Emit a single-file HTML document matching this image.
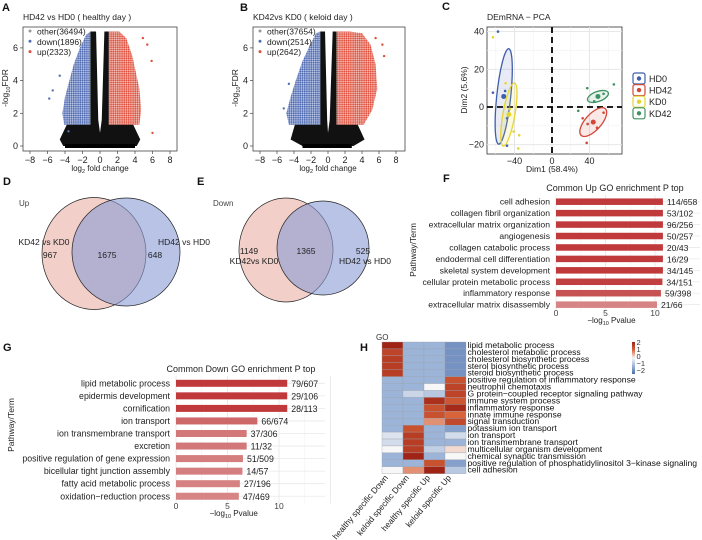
<!DOCTYPE html>
<html><head><meta charset="utf-8"><style>
html,body{margin:0;padding:0;background:#fff;}
svg{display:block;font-family:"Liberation Sans",Arial,sans-serif;}
</style></head><body>
<svg id="fig" width="702" height="540" viewBox="0 0 702 540" xmlns="http://www.w3.org/2000/svg">
<defs>
<pattern id="pblue" width="2.2" height="2.2" patternUnits="userSpaceOnUse"><rect width="2.2" height="2.2" fill="#c8d2ec"/><circle cx="1.1" cy="1.1" r="0.95" fill="#4e69b0"/></pattern>
<pattern id="pred" width="2.2" height="2.2" patternUnits="userSpaceOnUse"><rect width="2.2" height="2.2" fill="#f5cdc6"/><circle cx="1.1" cy="1.1" r="0.95" fill="#e0503e"/></pattern>
</defs>
</svg>
<script>
// ---------- DATA ----------
const volcABlackX=[-1.1,-0.45,-0.2,0,0.2,0.5,1,1,3.8,4.6,4.2,-4.2,-4.6,-3.8,-1.1];
const volcABlackY=[7,7,1.6,0.8,1.6,7,7,1.3,1.3,0.4,0,0,0.4,1.3,1.3];
const volcABlueX=[-1.1,-1.6,-2.3,-3,-3.5,-4,-4.3,-4.1,-1.1];
const volcABlueY=[7,6.8,6,5,4,3,2,1.3,1.3];
const volcARedX=[1,2.2,3,3.7,4.1,4.5,4.7,4.5,1];
const volcARedY=[7,7,6.6,5.5,4.5,3.5,2.2,1.3,1.3];
const volcAOutX=[-5.4,-4.6,-5.8,5.4,5.9,4.9,6,-3.6];
const volcAOutY=[3.4,4.3,2.9,6.2,5.2,6.6,0.8,0.9];
const volcBBlackX=[-0.9,-0.35,-0.1,0,0.2,0.55,1,1,3.5,4.3,3,-3,-4.4,-3.9,-0.9];
const volcBBlackY=[7,7,1.6,0.8,1.6,7,7,1.3,1.3,0.4,0,0,0.4,1.3,1.3];
const volcBBlueX=[-0.9,-1.4,-2,-3,-3.8,-4.4,-4.9,-4.6,-0.9];
const volcBBlueY=[7,6.9,6.3,5.2,4,3,2,1.3,1.3];
const volcBRedX=[1,2.5,4,5,5.6,5.8,5.2,4.2,1];
const volcBRedY=[7,7,6.9,6.2,5,3.5,2.2,1.3,1.3];
const volcBOutX=[-5.2,-4.6,6.4,6.6,5.6];
const volcBOutY=[2.3,3.8,6.2,5.5,6.6];
const pcaGroups=["HD0","HD42","KD0","KD42"];
const pcaHD0x=[-57.6,-63,-48,-50,-48];   const pcaHD0y=[40,7.6,-20.5,8.5,-6];
const pcaHD42x=[32.7,38,55,37,48];       const pcaHD42y=[-6,-9,-3,-19,-11];
const pcaKD0x=[-63,-49.5,-41,-35,-36,-45];const pcaKD0y=[37,12.6,-13,-15,-22,-1];
const pcaKD42x=[37.6,66,28,55,45];       const pcaKD42y=[10,12,-2,7,3];
const pcaCenterX=[-51.5,44,-46,49];      const pcaCenterY=[5.6,-8,-4,5.6];
const pcaEllA=[48,18,32,11]; const pcaEllB=[7,8,6,5]; const pcaEllAng=[-84,-48,-80,-20];
const vennUp=[967,1675,648]; const vennDown=[1149,1365,525];
const upTerms=["cell adhesion","collagen fibril organization","extracellular matrix organization","angiogenesis","collagen catabolic process","endodermal cell differentiation","skeletal system development","cellular protein metabolic process","inflammatory response","extracellular matrix disassembly"];
const upVals=[10.8,10.8,10.8,10.8,10.8,10.8,10.8,10.75,10.6,10.2];
const upCounts=["114/658","53/102","96/256","50/257","20/43","16/29","34/145","34/151","59/398","21/66"];
const upTicks=[0,5,10];
const dnTerms=["lipid metabolic process","epidermis development","cornification","ion transport","ion transmembrane transport","excretion","positive regulation of gene expression","bicellular tight junction assembly","fatty acid metabolic process","oxidation\u2212reduction process"];
const dnVals=[10.8,10.8,10.8,7.9,6.86,6.86,6.5,6.45,6.2,6.1];
const dnCounts=["79/607","29/106","28/113","66/674","37/306","11/32","51/509","14/57","27/196","47/469"];
const dnTicks=[0,5,10];
const hmCols=["healthy specific Down","keloid specific Down","healthy specific Up","keloid specific Up"];
const hmRows=["lipid metabolic process","cholesterol metabolic process","cholesterol biosynthetic process","sterol biosynthetic process","steroid biosynthetic process","positive regulation of inflammatory response","neutrophil chemotaxis","G protein\u2212coupled receptor signaling pathway","immune system process","inflammatory response","innate immune response","signal transduction","potassium ion transport","ion transport","ion transmembrane transport","multicellular organism development","chemical synaptic transmission","positive regulation of phosphatidylinositol 3\u2212kinase signaling","cell adhesion"];
const hmVals=[
[2,-1,-1,-1.5],[1.5,-1,-1,-1.5],[1.6,-1,-1,-1.5],[1.6,-1,-1,-1.5],[1.6,-1,-1,-1.5],
[-1,-1,-1,1.3],[-1,-1,0,1.5],[-1,-0.5,-0.7,1.5],[-1,-1,1.8,1.2],[-1,-1,1.3,1.9],
[-1,-1,1.3,1.0],[-1,-1,0.7,1.4],[-1,1.3,-1,-1.3],[-0.3,1.6,-1,-0.4],[-0.4,1.6,-1,-1],
[0,1.6,-0.6,0.2],[-1,2,-1,0],[-1,-1,1.3,-1.3],[0,0.7,2,-0.7]];
const hmLegend=[2,1,0,-1,-2];

// ---------- HELPERS ----------
const NS="http://www.w3.org/2000/svg";
const svg=document.getElementById('fig');
function mk(tag,attrs,parent,text){const e=document.createElementNS(NS,tag);for(const k in attrs)e.setAttribute(k,attrs[k]);if(text!==undefined)e.textContent=text;(parent||svg).appendChild(e);return e;}
function grp(name){const g=mk('g',{});return g;}
function txt(p,x,y,s,size,name,extra){const t=mk('text',Object.assign({x:x,y:y,'font-size':size,fill:'#222'},extra||{}),p,s);return t;}

[["A",2,11],["B",240,11],["C",442,10],["D",3,185],["E",197,185],["F",443,182],["G",3,351],["H",360,351]].forEach(l=>{
  txt(svg,l[1],l[2],l[0],11,'panel-label-'+l[0].toLowerCase(),{'font-weight':'bold',fill:'#111'});
});

// ---------- VOLCANO ----------
function volcano(name,x0,sx,bx0,bx1,title,legend,bk,bl,rd,out,barL,barR,ylabX){
  const g=grp(name);
  const X=v=>x0+v*sx, Y=v=>146-v*16.35;
  txt(g,bx0,20,title,8.5,name+'-title');
  mk('rect',{x:bx0,y:27,width:bx1-bx0,height:124,fill:'#fff',stroke:'#444','stroke-width':0.8},g);
  const poly=(xs,ys,col,n)=>{const p=mk('polygon',{points:xs.map((v,i)=>X(v)+','+Y(ys[i])).join(' '),fill:col},g);};
  poly(bl[0],bl[1],'url(#pblue)',name+'-down-points');
  poly(rd[0],rd[1],'url(#pred)',name+'-up-points');
  poly(bk[0],bk[1],'#111',name+'-other-points');
  const bar=mk('rect',{x:X(barL),y:Y(0)-2,width:X(barR)-X(barL),height:4,fill:'#000'},g);
  
  out[0].forEach((v,i)=>{const c=mk('circle',{cx:X(v),cy:Y(out[1][i]),r:1.2,fill:v<0?'#5670b4':'#e0503e'},g);});
  [0,2,4,6].forEach(v=>{mk('line',{x1:bx0-3,x2:bx0,y1:Y(v),y2:Y(v),stroke:'#444','stroke-width':0.7},g);txt(g,bx0-5,Y(v)+3,String(v),9,'y-tick-label',{'text-anchor':'end'});});
  [-8,-6,-4,-2,0,2,4,6,8].forEach(v=>{mk('line',{x1:X(v),x2:X(v),y1:151,y2:154,stroke:'#444','stroke-width':0.7},g);txt(g,X(v),163,v<0?'\u2212'+(-v):String(v),9,'x-tick-label',{'text-anchor':'middle'});});
  const xl=txt(g,X(0),171,'',8,name+'-x-axis-title',{'text-anchor':'middle'});
  mk('tspan',{},xl,'log');mk('tspan',{'font-size':5.5,dy:2},xl,'2');mk('tspan',{dy:-2},xl,' fold change');
  const yl=txt(g,0,0,'',8.5,name+'-y-axis-title',{'text-anchor':'middle',transform:`translate(${ylabX},88) rotate(-90)`});
  mk('tspan',{},yl,'-log');mk('tspan',{'font-size':5.5,dy:2},yl,'10');mk('tspan',{dy:-2},yl,'FDR');
  const lc=['#999','#5670b4','#e0503e'];
  legend.forEach((s,i)=>{mk('circle',{cx:bx0+7,cy:31+i*10.3,r:1.5,fill:lc[i]},g);txt(g,bx0+14,34.5+i*10.3,s,8.5,'legend-entry');});
}
volcano('volcano-healthy',100,8.75,23,177,'HD42 vs HD0 ( healthy day )',['other(36494)','down(1896)','up(2323)'],
  [volcABlackX,volcABlackY],[volcABlueX,volcABlueY],[volcARedX,volcARedY],[volcAOutX,volcAOutY],-4,4,8);
volcano('volcano-keloid',328,8.5,253,405,'KD42vs KD0  ( keloid day )',['other(37654)','down(2514)','up(2642)'],
  [volcBBlackX,volcBBlackY],[volcBBlueX,volcBBlueY],[volcBRedX,volcBRedY],[volcBOutX,volcBOutY],-3,2.8,238);

// ---------- PCA ----------
(function(){
  const g=grp('pca-plot');
  const X=v=>552+v*0.9375, Y=v=>107-v*1.885;
  txt(g,487,20,'DEmRNA \u2212 PCA',8.5,'pca-title');
  mk('rect',{x:487,y:27,width:135,height:127,fill:'#fff',stroke:'#333','stroke-width':0.8},g);
  [-60,-20,20,60].forEach(v=>mk('line',{x1:X(v),x2:X(v),y1:27,y2:154,stroke:'#f2f2f2','stroke-width':0.6},g));
  [-10,10,30].forEach(v=>mk('line',{x1:487,x2:622,y1:Y(v),y2:Y(v),stroke:'#f2f2f2','stroke-width':0.6},g));
  [-40,0,40].forEach(v=>mk('line',{x1:X(v),x2:X(v),y1:27,y2:154,stroke:'#e4e4e4','stroke-width':0.9},g));
  [-20,0,20,40].forEach(v=>mk('line',{x1:487,x2:622,y1:Y(v),y2:Y(v),stroke:'#e4e4e4','stroke-width':0.9},g));
  mk('line',{x1:X(0),x2:X(0),y1:27,y2:154,stroke:'#000','stroke-width':1.8,'stroke-dasharray':'6,4'},g);
  mk('line',{x1:487,x2:622,y1:Y(0),y2:Y(0),stroke:'#000','stroke-width':1.8,'stroke-dasharray':'6,4'},g);
  const cols=['#3f5eab','#d2473a','#e3d531','#3f9263'];
  const fills=['rgba(63,94,171,0.12)','rgba(210,71,58,0.12)','rgba(227,213,49,0.15)','rgba(63,146,99,0.12)'];
  const xs=[pcaHD0x,pcaHD42x,pcaKD0x,pcaKD42x], ys=[pcaHD0y,pcaHD42y,pcaKD0y,pcaKD42y];
  pcaGroups.forEach((nm,k)=>{
    const cx=X(pcaCenterX[k]),cy=Y(pcaCenterY[k]);
    const e=mk('ellipse',{cx:cx,cy:cy,rx:pcaEllA[k],ry:pcaEllB[k],fill:fills[k],stroke:cols[k],'stroke-width':1.3,transform:`rotate(${pcaEllAng[k]} ${cx} ${cy})`},g);
    
    xs[k].forEach((v,i)=>{const c=mk('circle',{cx:X(v),cy:Y(ys[k][i]),r:1.3,fill:cols[k]},g);});
    const c=mk('circle',{cx:cx,cy:cy,r:2.5,fill:cols[k]},g);
    const ly=73+k*11.6;
    const r=mk('rect',{x:633,y:ly,width:12,height:11,rx:2,fill:'#fff',stroke:cols[k],'stroke-width':1.2},g);
    
    mk('circle',{cx:639,cy:ly+5.5,r:2.2,fill:cols[k]},g);
    txt(g,649,ly+9,nm,9,'legend-entry');
  });
  [-40,0,40].forEach(v=>txt(g,X(v),164,v<0?'\u2212'+(-v):String(v),9,'x-tick-label',{'text-anchor':'middle'}));
  [-20,0,20,40].forEach(v=>txt(g,484,Y(v)+3,v<0?'\u2212'+(-v):String(v),9,'y-tick-label',{'text-anchor':'end'}));
  txt(g,552,172,'Dim1 (58.4%)',8.5,'x-axis-title',{'text-anchor':'middle'});
  txt(g,0,0,'Dim2 (5.6%)',8.5,'y-axis-title',{'text-anchor':'middle',transform:'translate(467,90) rotate(-90)'});
})();

// ---------- VENN ----------
function venn(name,vals,lbl,pink,blue,labels){
  const g=grp(name);
  const p=mk('ellipse',{cx:pink[0],cy:pink[1],rx:pink[2],ry:pink[3],fill:'#f2d0c9',stroke:'#222','stroke-width':0.7},g);
  
  const b=mk('ellipse',{cx:blue[0],cy:blue[1],rx:blue[2],ry:blue[3],fill:'rgb(137,155,213)','fill-opacity':0.6,stroke:'#222','stroke-width':0.7},g);
  
  txt(g,labels[0][0],labels[0][1],lbl,8,name+'-title',{fill:'#444'});
  vals.forEach((v,i)=>txt(g,labels[i+1][0],labels[i+1][1],String(v),8.5,'venn-count',{'text-anchor':'middle'}));
  txt(g,labels[4][0],labels[4][1],labels[4][2],8.5,'set-label-kd',{'text-anchor':'middle'});
  txt(g,labels[5][0],labels[5][1],labels[5][2],8.5,'set-label-hd',{'text-anchor':'middle'});
}
venn('venn-up',vennUp,'Up',[94,253.5,52,56],[126,252,54,54],[[19,206],[50,258],[107,258],[155,258],[44,245,'KD42 vs KD0'],[184,245,'HD42 vs HD0']]);
venn('venn-down',vennDown,'Down',[286,250,47,52],[323,248,46,47],[[213,206],[249,254],[306,254],[363,254],[254,264,'KD42vs KD0'],[365,264,'HD42 vs HD0']]);

// ---------- BAR CHARTS ----------
function mixCol(t){const a=[214,132,132],b=[192,57,59];return 'rgb('+a.map((v,i)=>Math.round(v+(b[i]-v)*t)).join(',')+')';}
function barChart(name,terms,vals,counts,ticks,o){
  const g=grp(name);
  const X=v=>o.x0+v*o.sx, Y=i=>o.y0+i*o.dy;
  const mn=Math.min(...vals),mx=Math.max(...vals);
  for(let v=0;v<=o.gmax;v+=2.5){mk('line',{x1:X(v),x2:X(v),y1:Y(0)-o.dy*0.6,y2:Y(terms.length-1)+o.dy*0.6,stroke:v%5===0?'#e6e6e6':'#f3f3f3','stroke-width':0.8},g);}
  terms.forEach((t,i)=>{
    mk('line',{x1:X(0),x2:o.gx1,y1:Y(i),y2:Y(i),stroke:'#e9e9e9','stroke-width':0.8},g);
    const c=(vals[i]-mn)/((mx-mn)||1);
    const r=mk('rect',{x:X(0),y:Y(i)-o.bh/2,width:X(vals[i])-X(0),height:o.bh,fill:mixCol(c)},g);
    
    txt(g,X(0)-6,Y(i)+3,t,o.fs,'category-label',{'text-anchor':'end'});
    txt(g,X(vals[i])+4,Y(i)+3.5,counts[i],o.fs,'count-label');
  });
  ticks.forEach(v=>txt(g,X(v),o.tickY,String(v),8.5,'x-tick-label',{'text-anchor':'middle',fill:'#444'}));
  const xl=txt(g,X(5.6),o.tickY+7,'',8,name+'-x-axis-title',{'text-anchor':'middle'});
  mk('tspan',{},xl,'\u2212log');mk('tspan',{'font-size':5.5,dy:2},xl,'10');mk('tspan',{dy:-2},xl,' Pvalue');
  txt(g,o.tx,o.ty,o.title,9,name+'-title',{'text-anchor':'middle'});
  txt(g,0,0,'Pathway/Term',8.5,name+'-y-axis-title',{'text-anchor':'middle',transform:`translate(${o.ylx},${o.yly}) rotate(-90)`});
}
barChart('go-up-chart',upTerms,upVals,upCounts,upTicks,{x0:556,sx:9.9,y0:201.7,dy:11.44,bh:6.5,fs:8.6,gmax:12.5,gx1:700,tickY:316,tx:615,ty:191,title:'Common Up GO enrichment P top',ylx:416,yly:250});
barChart('go-down-chart',dnTerms,dnVals,dnCounts,dnTicks,{x0:176,sx:10.3,y0:383.3,dy:12.55,bh:7,fs:8.8,gmax:15,gx1:325,tickY:509,tx:241,ty:372,title:'Common Down GO enrichment P top',ylx:14,yly:425});

// ---------- HEATMAP ----------
function hcol(v){
  const st=[[-2,[77,112,173]],[-1,[156,180,216]],[0,[248,247,247]],[1,[217,100,58]],[2,[160,36,22]]];
  v=Math.max(-2,Math.min(2,v));
  for(let i=0;i<st.length-1;i++){if(v<=st[i+1][0]){const t=(v-st[i][0])/(st[i+1][0]-st[i][0]);return 'rgb('+st[i][1].map((a,k)=>Math.round(a+(st[i+1][1][k]-a)*t)).join(',')+')';}}
  return 'rgb(160,36,22)';
}
(function(){
  const g=grp('go-heatmap');
  const x0=382,w=21,y0=342,h=6.93;
  txt(g,376,340,'GO',8,'heatmap-go-label',{fill:'#333'});
  hmVals.forEach((row,r)=>row.forEach((v,c)=>{
    const cell=mk('rect',{x:x0+c*w,y:y0+r*h,width:w,height:h,fill:hcol(v),stroke:'#9aa3ad','stroke-width':0.35},g);
    
  }));
  hmRows.forEach((t,r)=>txt(g,467.5,y0+r*h+6,t,8.6,'row-label',{fill:'#111'}));
  hmCols.forEach((t,c)=>{const cx=x0+c*w+w/2-4;txt(g,0,0,t,8.4,'column-label',{'text-anchor':'end',transform:`translate(${cx},${478}) rotate(-50)`});});
  const lg=mk('linearGradient',{id:'hmg',x1:0,y1:0,x2:0,y2:1},mk('defs',{},g));
  hmLegend.forEach((v,i)=>mk('stop',{offset:(i/(hmLegend.length-1)),'stop-color':hcol(v)},lg));
  const lb=mk('rect',{x:632,y:342,width:3,height:32,fill:'url(#hmg)'},g);
  
  hmLegend.forEach((v,i)=>txt(g,636.5,345+i*7,v<0?'\u2212'+(-v):String(v),7.5,'legend-tick-label',{fill:'#333'}));
})();
</script>
</body></html>
